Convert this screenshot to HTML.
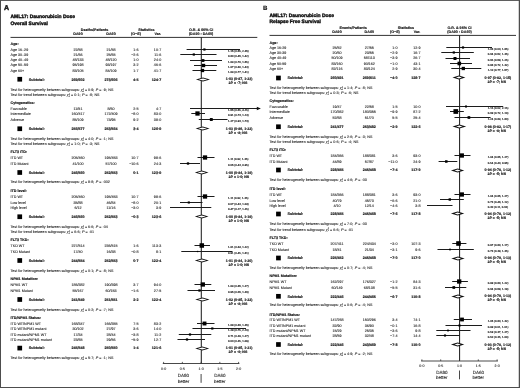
<!DOCTYPE html>
<html lang="en"><head><meta charset="utf-8"><title>AML17: Daunorubicin Dose</title>
<style>html,body{margin:0;padding:0;background:#fff;}body{width:520px;height:388px;overflow:hidden;position:relative;}svg{position:absolute;left:0;top:0;display:block;}text{font-family:"Liberation Sans",sans-serif;}</style></head><body>
<svg width="520" height="388" viewBox="0 0 520 388" font-size="3.66" fill="#222" text-rendering="geometricPrecision">
<rect x="0" y="0" width="520" height="388" fill="#fff"/>
<defs><filter id="soft" x="0" y="0" width="520" height="388" filterUnits="userSpaceOnUse"><feGaussianBlur stdDeviation="0.35"/></filter></defs>
<g filter="url(#soft)" stroke="#222" stroke-width="0.09" stroke-linejoin="round">
<text x="4.10" y="10.10" font-weight="bold" font-size="7.0" fill="#111" stroke-width="0.4" stroke="#111">A</text>
<text x="10.50" y="17.50" font-weight="bold" font-size="4.95" fill="#111" stroke-width="0.38" stroke="#111">AML17: Daunorubicin Dose</text>
<text x="10.50" y="24.70" font-weight="bold" font-size="4.95" fill="#111" stroke-width="0.38" stroke="#111">Overall Survival</text>
<text x="94.50" y="31.10" text-anchor="middle" font-weight="bold" stroke-width="0.16">Deaths/Patients</text>
<text x="78.00" y="34.70" text-anchor="middle" font-weight="bold" stroke-width="0.16">DA90</text>
<text x="111.00" y="34.70" text-anchor="middle" font-weight="bold" stroke-width="0.16">DA60</text>
<text x="146.50" y="31.10" text-anchor="middle" font-weight="bold" stroke-width="0.16">Statistics</text>
<text x="136.00" y="34.70" text-anchor="middle" font-weight="bold" stroke-width="0.16">(O−E)</text>
<text x="157.70" y="34.70" text-anchor="middle" font-weight="bold" stroke-width="0.16">Var.</text>
<text x="201.10" y="31.10" text-anchor="middle" font-weight="bold" stroke-width="0.16">O.R. &amp; 95% CI</text>
<text x="201.10" y="34.70" text-anchor="middle" font-weight="bold" stroke-width="0.16">(DA90 : DA60)</text>
<line x1="10.50" y1="37.40" x2="257.30" y2="37.40" stroke="#333" stroke-width="1"/>
<line x1="201.30" y1="37.40" x2="201.30" y2="363.50" stroke="#1a1a1a" stroke-width="1.0"/>
<line x1="162.80" y1="363.50" x2="239.40" y2="363.50" stroke="#333" stroke-width="0.9"/>
<line x1="163.60" y1="361.90" x2="163.60" y2="363.50" stroke="#333" stroke-width="0.8"/>
<text x="163.60" y="369.90" text-anchor="middle" font-size="3.55">0·0</text>
<line x1="182.35" y1="361.90" x2="182.35" y2="363.50" stroke="#333" stroke-width="0.8"/>
<text x="182.35" y="369.90" text-anchor="middle" font-size="3.55">0·5</text>
<line x1="201.10" y1="361.90" x2="201.10" y2="363.50" stroke="#333" stroke-width="0.8"/>
<text x="201.10" y="369.90" text-anchor="middle" font-size="3.55">1·0</text>
<line x1="219.85" y1="361.90" x2="219.85" y2="363.50" stroke="#333" stroke-width="0.8"/>
<text x="219.85" y="369.90" text-anchor="middle" font-size="3.55">1·5</text>
<line x1="238.60" y1="361.90" x2="238.60" y2="363.50" stroke="#333" stroke-width="0.8"/>
<text x="238.60" y="369.90" text-anchor="middle" font-size="3.55">2·0</text>
<text x="183.47" y="377.40" text-anchor="middle" font-size="4.5">DA90</text>
<text x="183.47" y="382.60" text-anchor="middle" font-size="4.5">better</text>
<text x="219.85" y="377.40" text-anchor="middle" font-size="4.5">DA60</text>
<text x="219.85" y="382.60" text-anchor="middle" font-size="4.5">better</text>
<line x1="201.10" y1="374.00" x2="201.10" y2="382.80" stroke="#333" stroke-width="0.9"/>
<text x="10.50" y="45.30" font-weight="bold" fill="#111" stroke-width="0.16">Age:</text>
<text x="10.50" y="50.55">Age 16–29</text>
<text x="78.00" y="50.55" text-anchor="middle">22/58</text>
<text x="111.00" y="50.55" text-anchor="middle">21/58</text>
<text x="138.60" y="50.55" text-anchor="end">1·6</text>
<text x="161.20" y="50.55" text-anchor="end">10·7</text>
<text x="228.00" y="51.75" font-size="2.75" fill="#222" stroke-width="0.14">1·15 (0·56, 2·35)</text>
<line x1="186.60" y1="49.50" x2="240.00" y2="49.50" stroke="#1a1a1a" stroke-width="1"/>
<rect x="203.30" y="48.40" width="2.20" height="2.20" fill="#000" stroke="none"/>
<text x="10.50" y="55.80">Age 30–39</text>
<text x="78.00" y="55.80" text-anchor="middle">21/66</text>
<text x="111.00" y="55.80" text-anchor="middle">25/65</text>
<text x="138.60" y="55.80" text-anchor="end">−2·6</text>
<text x="161.20" y="55.80" text-anchor="end">11·6</text>
<text x="228.00" y="57.00" font-size="2.75" fill="#222" stroke-width="0.14">0·80 (0·45, 1·42)</text>
<line x1="180.30" y1="54.50" x2="216.50" y2="54.50" stroke="#1a1a1a" stroke-width="1"/>
<rect x="192.70" y="53.40" width="2.20" height="2.20" fill="#000" stroke="none"/>
<text x="10.50" y="61.30">Age 40–49</text>
<text x="78.00" y="61.30" text-anchor="middle">48/133</text>
<text x="111.00" y="61.30" text-anchor="middle">48/120</text>
<text x="138.60" y="61.30" text-anchor="end">1·0</text>
<text x="161.20" y="61.30" text-anchor="end">24·0</text>
<text x="228.00" y="62.50" font-size="2.75" fill="#222" stroke-width="0.14">1·04 (0·70, 1·56)</text>
<line x1="190.00" y1="60.50" x2="222.00" y2="60.50" stroke="#1a1a1a" stroke-width="1"/>
<rect x="201.60" y="59.10" width="2.80" height="2.80" fill="#000" stroke="none"/>
<text x="10.50" y="66.30">Age 50–59</text>
<text x="78.00" y="66.30" text-anchor="middle">95/198</text>
<text x="111.00" y="66.30" text-anchor="middle">93/197</text>
<text x="138.60" y="66.30" text-anchor="end">3·2</text>
<text x="161.20" y="66.30" text-anchor="end">46·6</text>
<text x="228.00" y="67.50" font-size="2.75" fill="#222" stroke-width="0.14">1·07 (0·80, 1·43)</text>
<line x1="194.00" y1="65.50" x2="217.00" y2="65.50" stroke="#1a1a1a" stroke-width="1"/>
<rect x="201.80" y="63.80" width="3.40" height="3.40" fill="#000" stroke="none"/>
<text x="10.50" y="71.80">Age 60+</text>
<text x="78.00" y="71.80" text-anchor="middle">83/105</text>
<text x="111.00" y="71.80" text-anchor="middle">84/109</text>
<text x="138.60" y="71.80" text-anchor="end">1·7</text>
<text x="161.20" y="71.80" text-anchor="end">41·7</text>
<text x="228.00" y="73.00" font-size="2.75" fill="#222" stroke-width="0.14">1·04 (0·77, 1·41)</text>
<line x1="192.50" y1="70.50" x2="216.30" y2="70.50" stroke="#1a1a1a" stroke-width="1"/>
<rect x="200.85" y="68.85" width="3.30" height="3.30" fill="#000" stroke="none"/>
<rect x="17.40" y="76.90" width="4.70" height="4.70" fill="#000" stroke="none"/>
<text x="28.80" y="80.55" font-weight="bold" stroke-width="0.16">Subtotal:</text>
<text x="78.00" y="80.55" text-anchor="middle" font-weight="bold" stroke-width="0.16">269/602</text>
<text x="111.00" y="80.55" text-anchor="middle" font-weight="bold" stroke-width="0.16">273/606</text>
<text x="138.60" y="80.55" text-anchor="end" font-weight="bold" stroke-width="0.16">4·5</text>
<text x="161.20" y="80.55" text-anchor="end" font-weight="bold" stroke-width="0.16">124·7</text>
<text x="225.80" y="80.35" font-weight="bold" font-size="3.55" stroke-width="0.16">1·03 (0·87, 1·23)</text>
<text x="228.60" y="84.35" font-weight="bold" font-size="3.55" stroke-width="0.16">2<tspan font-style="italic">P</tspan> = ·7; NS</text>
<path d="M195.92 79.50 L202.97 77.50 L210.03 79.50 L202.97 81.50 Z" fill="#111" stroke="none"/>
<path d="M198.66 79.50 L202.97 78.50 L207.29 79.50 L202.97 80.50 Z" fill="#fff" stroke="none"/>
<text x="10.50" y="90.80">Test for heterogeneity between subgroups: <tspan font-style="italic">&#967;</tspan><tspan dy="-1.1" font-size="2.3">2</tspan><tspan dy="2.0" dx="-1.3" font-size="2.3">4</tspan><tspan dy="-0.9"> = 0·9; </tspan><tspan font-style="italic" dx="0.5" stroke-width="0.14">P</tspan> = ·9;<tspan dx="0.5"> NS</tspan></text>
<text x="10.50" y="96.30">Test for trend between subgroups: <tspan font-style="italic">&#967;</tspan><tspan dy="-1.1" font-size="2.3">2</tspan><tspan dy="2.0" dx="-1.3" font-size="2.3">1</tspan><tspan dy="-0.9"> = 0·1; </tspan><tspan font-style="italic" dx="0.5" stroke-width="0.14">P</tspan> = ·8;<tspan dx="0.5"> NS</tspan></text>
<text x="10.50" y="104.30" font-weight="bold" fill="#111" stroke-width="0.16">Cytogenetics:</text>
<text x="10.50" y="109.50">Favorable</text>
<text x="78.00" y="109.50" text-anchor="middle">11/51</text>
<text x="111.00" y="109.50" text-anchor="middle">8/60</text>
<text x="138.60" y="109.50" text-anchor="end">2·5</text>
<text x="161.20" y="109.50" text-anchor="end">4·7</text>
<text x="228.00" y="110.70" font-size="2.75" fill="#222" stroke-width="0.14">1·55 (0·56, 4·16)</text>
<line x1="190.00" y1="108.50" x2="259.60" y2="108.50" stroke="#1a1a1a" stroke-width="1"/>
<path d="M260.80 108.50 l-4 -1.7 v3.4 z" fill="#111" stroke="none"/>
<text x="10.50" y="115.10">Intermediate</text>
<text x="78.00" y="115.10" text-anchor="middle">160/417</text>
<text x="111.00" y="115.10" text-anchor="middle">172/409</text>
<text x="138.60" y="115.10" text-anchor="end">−8·0</text>
<text x="161.20" y="115.10" text-anchor="end">83·0</text>
<text x="228.00" y="116.30" font-size="2.75" fill="#222" stroke-width="0.14">0·91 (0·73, 1·13)</text>
<line x1="191.30" y1="113.50" x2="205.00" y2="113.50" stroke="#1a1a1a" stroke-width="1"/>
<rect x="195.35" y="111.35" width="4.30" height="4.30" fill="#000" stroke="none"/>
<text x="10.50" y="120.80">Adverse</text>
<text x="78.00" y="120.80" text-anchor="middle">85/109</text>
<text x="111.00" y="120.80" text-anchor="middle">73/95</text>
<text x="138.60" y="120.80" text-anchor="end">9·2</text>
<text x="161.20" y="120.80" text-anchor="end">39·0</text>
<text x="228.00" y="122.00" font-size="2.75" fill="#222" stroke-width="0.14">1·27 (0·93, 1·73)</text>
<line x1="198.80" y1="119.50" x2="227.50" y2="119.50" stroke="#1a1a1a" stroke-width="1"/>
<rect x="209.85" y="118.05" width="2.90" height="2.90" fill="#000" stroke="none"/>
<rect x="17.40" y="126.40" width="4.70" height="4.70" fill="#000" stroke="none"/>
<text x="28.80" y="130.05" font-weight="bold" stroke-width="0.16">Subtotal:</text>
<text x="78.00" y="130.05" text-anchor="middle" font-weight="bold" stroke-width="0.16">256/577</text>
<text x="111.00" y="130.05" text-anchor="middle" font-weight="bold" stroke-width="0.16">253/564</text>
<text x="138.60" y="130.05" text-anchor="end" font-weight="bold" stroke-width="0.16">3·4</text>
<text x="161.20" y="130.05" text-anchor="end" font-weight="bold" stroke-width="0.16">126·9</text>
<text x="225.80" y="129.85" font-weight="bold" font-size="3.55" stroke-width="0.16">1·03 (0·86, 1·22)</text>
<text x="228.60" y="133.85" font-weight="bold" font-size="3.55" stroke-width="0.16">2<tspan font-style="italic">P</tspan> = ·8; NS</text>
<path d="M195.55 128.50 L202.60 126.50 L209.65 128.50 L202.60 130.50 Z" fill="#111" stroke="none"/>
<path d="M198.28 128.50 L202.60 127.50 L206.92 128.50 L202.60 129.50 Z" fill="#fff" stroke="none"/>
<text x="10.50" y="139.60">Test for heterogeneity between subgroups: <tspan font-style="italic">&#967;</tspan><tspan dy="-1.1" font-size="2.3">2</tspan><tspan dy="2.0" dx="-1.3" font-size="2.3">2</tspan><tspan dy="-0.9"> = 4·0; </tspan><tspan font-style="italic" dx="0.5" stroke-width="0.14">P</tspan> = ·1;<tspan dx="0.5"> NS</tspan></text>
<text x="10.50" y="145.10">Test for trend between subgroups: <tspan font-style="italic">&#967;</tspan><tspan dy="-1.1" font-size="2.3">2</tspan><tspan dy="2.0" dx="-1.3" font-size="2.3">1</tspan><tspan dy="-0.9"> = 1·0; </tspan><tspan font-style="italic" dx="0.5" stroke-width="0.14">P</tspan> = ·3;<tspan dx="0.5"> NS</tspan></text>
<text x="10.50" y="153.10" font-weight="bold" fill="#111" stroke-width="0.16">FLT3 ITD:</text>
<text x="10.50" y="158.80">ITD WT</text>
<text x="78.00" y="158.80" text-anchor="middle">205/460</text>
<text x="111.00" y="158.80" text-anchor="middle">195/453</text>
<text x="138.60" y="158.80" text-anchor="end">10·7</text>
<text x="161.20" y="158.80" text-anchor="end">99·6</text>
<text x="228.00" y="160.00" font-size="2.75" fill="#222" stroke-width="0.14">1·11 (0·92, 1·36)</text>
<line x1="197.50" y1="157.50" x2="214.50" y2="157.50" stroke="#1a1a1a" stroke-width="1"/>
<rect x="202.85" y="155.35" width="4.30" height="4.30" fill="#000" stroke="none"/>
<text x="10.50" y="165.05">ITD Mutant</text>
<text x="78.00" y="165.05" text-anchor="middle">41/100</text>
<text x="111.00" y="165.05" text-anchor="middle">57/100</text>
<text x="138.60" y="165.05" text-anchor="end">−10·6</text>
<text x="161.20" y="165.05" text-anchor="end">24·3</text>
<text x="228.00" y="166.25" font-size="2.75" fill="#222" stroke-width="0.14">0·65 (0·43, 0·96)</text>
<line x1="180.00" y1="163.50" x2="200.00" y2="163.50" stroke="#1a1a1a" stroke-width="1"/>
<rect x="186.85" y="162.35" width="2.30" height="2.30" fill="#000" stroke="none"/>
<rect x="17.40" y="170.15" width="4.70" height="4.70" fill="#000" stroke="none"/>
<text x="28.80" y="173.80" font-weight="bold" stroke-width="0.16">Subtotal:</text>
<text x="78.00" y="173.80" text-anchor="middle" font-weight="bold" stroke-width="0.16">246/560</text>
<text x="111.00" y="173.80" text-anchor="middle" font-weight="bold" stroke-width="0.16">252/553</text>
<text x="138.60" y="173.80" text-anchor="end" font-weight="bold" stroke-width="0.16">0·1</text>
<text x="161.20" y="173.80" text-anchor="end" font-weight="bold" stroke-width="0.16">123·9</text>
<text x="225.80" y="173.60" font-weight="bold" font-size="3.55" stroke-width="0.16">1·00 (0·84, 1·19)</text>
<text x="228.60" y="177.60" font-weight="bold" font-size="3.55" stroke-width="0.16">2<tspan font-style="italic">P</tspan> = 1·0; NS</text>
<path d="M194.80 172.50 L201.66 170.50 L208.53 172.50 L201.66 174.50 Z" fill="#111" stroke="none"/>
<path d="M197.46 172.50 L201.66 171.50 L205.86 172.50 L201.66 173.50 Z" fill="#fff" stroke="none"/>
<text x="10.50" y="183.10">Test for heterogeneity between subgroups: <tspan font-style="italic">&#967;</tspan><tspan dy="-1.1" font-size="2.3">2</tspan><tspan dy="2.0" dx="-1.3" font-size="2.3">1</tspan><tspan dy="-0.9"> = 9·8; </tspan><tspan font-style="italic" dx="0.5" stroke-width="0.14">P</tspan> = ·002</text>
<text x="10.50" y="192.05" font-weight="bold" fill="#111" stroke-width="0.16">ITD level:</text>
<text x="10.50" y="197.55">ITD WT</text>
<text x="78.00" y="197.55" text-anchor="middle">205/460</text>
<text x="111.00" y="197.55" text-anchor="middle">195/453</text>
<text x="138.60" y="197.55" text-anchor="end">10·7</text>
<text x="161.20" y="197.55" text-anchor="end">99·6</text>
<text x="228.00" y="198.75" font-size="2.75" fill="#222" stroke-width="0.14">1·11 (0·92, 1·36)</text>
<line x1="197.50" y1="196.50" x2="214.50" y2="196.50" stroke="#1a1a1a" stroke-width="1"/>
<rect x="202.85" y="194.35" width="4.30" height="4.30" fill="#000" stroke="none"/>
<text x="10.50" y="203.60">Low level</text>
<text x="78.00" y="203.60" text-anchor="middle">35/88</text>
<text x="111.00" y="203.60" text-anchor="middle">46/84</text>
<text x="138.60" y="203.60" text-anchor="end">−8·0</text>
<text x="161.20" y="203.60" text-anchor="end">20·1</text>
<text x="228.00" y="204.80" font-size="2.75" fill="#222" stroke-width="0.14">0·67 (0·43, 1·04)</text>
<line x1="180.00" y1="202.50" x2="202.50" y2="202.50" stroke="#1a1a1a" stroke-width="1"/>
<rect x="187.75" y="201.45" width="2.10" height="2.10" fill="#000" stroke="none"/>
<text x="10.50" y="208.80">High level</text>
<text x="78.00" y="208.80" text-anchor="middle">6/12</text>
<text x="111.00" y="208.80" text-anchor="middle">11/16</text>
<text x="138.60" y="208.80" text-anchor="end">−3·0</text>
<text x="161.20" y="208.80" text-anchor="end">3·9</text>
<text x="228.00" y="210.00" font-size="2.75" fill="#222" stroke-width="0.14">0·47 (0·17, 1·26)</text>
<line x1="170.00" y1="207.50" x2="211.30" y2="207.50" stroke="#1a1a1a" stroke-width="1"/>
<rect x="17.40" y="214.40" width="4.70" height="4.70" fill="#000" stroke="none"/>
<text x="28.80" y="218.05" font-weight="bold" stroke-width="0.16">Subtotal:</text>
<text x="78.00" y="218.05" text-anchor="middle" font-weight="bold" stroke-width="0.16">246/560</text>
<text x="111.00" y="218.05" text-anchor="middle" font-weight="bold" stroke-width="0.16">252/553</text>
<text x="138.60" y="218.05" text-anchor="end" font-weight="bold" stroke-width="0.16">−0·3</text>
<text x="161.20" y="218.05" text-anchor="end" font-weight="bold" stroke-width="0.16">123·6</text>
<text x="225.80" y="217.85" font-weight="bold" font-size="3.55" stroke-width="0.16">1·00 (0·84, 1·19)</text>
<text x="228.60" y="221.85" font-weight="bold" font-size="3.55" stroke-width="0.16">2<tspan font-style="italic">P</tspan> = 1·0; NS</text>
<path d="M194.80 216.50 L201.66 214.50 L208.53 216.50 L201.66 218.50 Z" fill="#111" stroke="none"/>
<path d="M197.46 216.50 L201.66 215.50 L205.86 216.50 L201.66 217.50 Z" fill="#fff" stroke="none"/>
<text x="10.50" y="228.05">Test for heterogeneity between subgroups: <tspan font-style="italic">&#967;</tspan><tspan dy="-1.1" font-size="2.3">2</tspan><tspan dy="2.0" dx="-1.3" font-size="2.3">2</tspan><tspan dy="-0.9"> = 6·6; </tspan><tspan font-style="italic" dx="0.5" stroke-width="0.14">P</tspan> = ·04</text>
<text x="10.50" y="233.20">Test for trend between subgroups: <tspan font-style="italic">&#967;</tspan><tspan dy="-1.1" font-size="2.3">2</tspan><tspan dy="2.0" dx="-1.3" font-size="2.3">1</tspan><tspan dy="-0.9"> = 6·6; </tspan><tspan font-style="italic" dx="0.5" stroke-width="0.14">P</tspan> = ·01</text>
<text x="10.50" y="241.30" font-weight="bold" fill="#111" stroke-width="0.16">FLT3 TKD:</text>
<text x="10.50" y="246.80">TKD WT</text>
<text x="78.00" y="246.80" text-anchor="middle">227/514</text>
<text x="111.00" y="246.80" text-anchor="middle">236/515</text>
<text x="138.60" y="246.80" text-anchor="end">1·6</text>
<text x="161.20" y="246.80" text-anchor="end">113·3</text>
<text x="228.00" y="248.00" font-size="2.75" fill="#222" stroke-width="0.14">1·01 (0·84, 1·22)</text>
<line x1="194.50" y1="245.50" x2="210.00" y2="245.50" stroke="#1a1a1a" stroke-width="1"/>
<rect x="199.55" y="243.25" width="4.50" height="4.50" fill="#000" stroke="none"/>
<text x="10.50" y="253.05">TKD Mutant</text>
<text x="78.00" y="253.05" text-anchor="middle">17/40</text>
<text x="111.00" y="253.05" text-anchor="middle">16/38</text>
<text x="138.60" y="253.05" text-anchor="end">−0·8</text>
<text x="161.20" y="253.05" text-anchor="end">8·1</text>
<text x="228.00" y="254.25" font-size="2.75" fill="#222" stroke-width="0.14">0·91 (0·46, 1·81)</text>
<line x1="181.30" y1="251.50" x2="232.50" y2="251.50" stroke="#1a1a1a" stroke-width="1"/>
<rect x="196.95" y="250.85" width="1.30" height="1.30" fill="#000" stroke="none"/>
<rect x="17.40" y="258.15" width="4.70" height="4.70" fill="#000" stroke="none"/>
<text x="28.80" y="261.80" font-weight="bold" stroke-width="0.16">Subtotal:</text>
<text x="78.00" y="261.80" text-anchor="middle" font-weight="bold" stroke-width="0.16">244/554</text>
<text x="111.00" y="261.80" text-anchor="middle" font-weight="bold" stroke-width="0.16">252/553</text>
<text x="138.60" y="261.80" text-anchor="end" font-weight="bold" stroke-width="0.16">0·7</text>
<text x="161.20" y="261.80" text-anchor="end" font-weight="bold" stroke-width="0.16">122·4</text>
<text x="225.80" y="261.60" font-weight="bold" font-size="3.55" stroke-width="0.16">1·01 (0·84, 1·20)</text>
<text x="228.60" y="265.60" font-weight="bold" font-size="3.55" stroke-width="0.16">2<tspan font-style="italic">P</tspan> = 1·0; NS</text>
<path d="M194.80 260.50 L201.85 258.50 L208.90 260.50 L201.85 262.50 Z" fill="#111" stroke="none"/>
<path d="M197.53 260.50 L201.85 259.50 L206.17 260.50 L201.85 261.50 Z" fill="#fff" stroke="none"/>
<text x="10.50" y="272.05">Test for heterogeneity between subgroups: <tspan font-style="italic">&#967;</tspan><tspan dy="-1.1" font-size="2.3">2</tspan><tspan dy="2.0" dx="-1.3" font-size="2.3">1</tspan><tspan dy="-0.9"> = 0·1; </tspan><tspan font-style="italic" dx="0.5" stroke-width="0.14">P</tspan> = ·8;<tspan dx="0.5"> NS</tspan></text>
<text x="10.50" y="280.05" font-weight="bold" fill="#111" stroke-width="0.16">NPM1 Mutation:</text>
<text x="10.50" y="285.80">NPM1 WT</text>
<text x="78.00" y="285.80" text-anchor="middle">186/382</text>
<text x="111.00" y="285.80" text-anchor="middle">190/398</text>
<text x="138.60" y="285.80" text-anchor="end">3·7</text>
<text x="161.20" y="285.80" text-anchor="end">94·0</text>
<text x="228.00" y="287.00" font-size="2.75" fill="#222" stroke-width="0.14">1·04 (0·85, 1·27)</text>
<line x1="194.50" y1="284.50" x2="211.30" y2="284.50" stroke="#1a1a1a" stroke-width="1"/>
<rect x="200.65" y="282.35" width="4.30" height="4.30" fill="#000" stroke="none"/>
<text x="10.50" y="291.80">NPM1 Mutant</text>
<text x="78.00" y="291.80" text-anchor="middle">55/167</text>
<text x="111.00" y="291.80" text-anchor="middle">60/153</text>
<text x="138.60" y="291.80" text-anchor="end">−1·6</text>
<text x="161.20" y="291.80" text-anchor="end">27·5</text>
<text x="228.00" y="293.00" font-size="2.75" fill="#222" stroke-width="0.14">0·95 (0·65, 1·38)</text>
<line x1="187.50" y1="290.50" x2="215.00" y2="290.50" stroke="#1a1a1a" stroke-width="1"/>
<rect x="198.35" y="289.35" width="2.30" height="2.30" fill="#000" stroke="none"/>
<rect x="17.40" y="297.15" width="4.70" height="4.70" fill="#000" stroke="none"/>
<text x="28.80" y="300.80" font-weight="bold" stroke-width="0.16">Subtotal:</text>
<text x="78.00" y="300.80" text-anchor="middle" font-weight="bold" stroke-width="0.16">241/549</text>
<text x="111.00" y="300.80" text-anchor="middle" font-weight="bold" stroke-width="0.16">251/551</text>
<text x="138.60" y="300.80" text-anchor="end" font-weight="bold" stroke-width="0.16">2·2</text>
<text x="161.20" y="300.80" text-anchor="end" font-weight="bold" stroke-width="0.16">122·4</text>
<text x="225.80" y="300.60" font-weight="bold" font-size="3.55" stroke-width="0.16">1·02 (0·85, 1·22)</text>
<text x="228.60" y="304.60" font-weight="bold" font-size="3.55" stroke-width="0.16">2<tspan font-style="italic">P</tspan> = ·8; NS</text>
<path d="M195.17 299.50 L202.41 297.50 L209.65 299.50 L202.41 301.50 Z" fill="#111" stroke="none"/>
<path d="M197.97 299.50 L202.41 298.50 L206.85 299.50 L202.41 300.50 Z" fill="#fff" stroke="none"/>
<text x="10.50" y="310.80">Test for heterogeneity between subgroups: <tspan font-style="italic">&#967;</tspan><tspan dy="-1.1" font-size="2.3">2</tspan><tspan dy="2.0" dx="-1.3" font-size="2.3">1</tspan><tspan dy="-0.9"> = 0·2; </tspan><tspan font-style="italic" dx="0.5" stroke-width="0.14">P</tspan> = ·7;<tspan dx="0.5"> NS</tspan></text>
<text x="10.50" y="318.80" font-weight="bold" fill="#111" stroke-width="0.16">ITD/NPM1 Status:</text>
<text x="10.50" y="324.55">ITD WT/NPM1 WT</text>
<text x="78.00" y="324.55" text-anchor="middle">168/347</text>
<text x="111.00" y="324.55" text-anchor="middle">166/355</text>
<text x="138.60" y="324.55" text-anchor="end">7·5</text>
<text x="161.20" y="324.55" text-anchor="end">83·2</text>
<text x="228.00" y="325.75" font-size="2.75" fill="#222" stroke-width="0.14">1·09 (0·88, 1·35)</text>
<line x1="197.00" y1="323.50" x2="214.50" y2="323.50" stroke="#1a1a1a" stroke-width="1"/>
<rect x="202.55" y="321.55" width="3.90" height="3.90" fill="#000" stroke="none"/>
<text x="10.50" y="330.05">ITD WT/NPM1 mutant</text>
<text x="78.00" y="330.05" text-anchor="middle">30/102</text>
<text x="111.00" y="330.05" text-anchor="middle">27/97</text>
<text x="138.60" y="330.05" text-anchor="end">3·6</text>
<text x="161.20" y="330.05" text-anchor="end">14·0</text>
<text x="228.00" y="331.25" font-size="2.75" fill="#222" stroke-width="0.14">1·29 (0·76, 2·18)</text>
<line x1="192.50" y1="328.50" x2="246.00" y2="328.50" stroke="#1a1a1a" stroke-width="1"/>
<rect x="211.20" y="327.40" width="2.20" height="2.20" fill="#000" stroke="none"/>
<text x="10.50" y="335.55">ITD mutant/NPM1 WT</text>
<text x="78.00" y="335.55" text-anchor="middle">17/34</text>
<text x="111.00" y="335.55" text-anchor="middle">28/44</text>
<text x="138.60" y="335.55" text-anchor="end">−3·8</text>
<text x="161.20" y="335.55" text-anchor="end">11·2</text>
<text x="228.00" y="336.75" font-size="2.75" fill="#222" stroke-width="0.14">0·71 (0·39, 1·27)</text>
<line x1="178.80" y1="334.50" x2="211.30" y2="334.50" stroke="#1a1a1a" stroke-width="1"/>
<rect x="188.90" y="333.40" width="2.20" height="2.20" fill="#000" stroke="none"/>
<text x="10.50" y="340.80">ITD mutant/NPM1 mutant</text>
<text x="78.00" y="340.80" text-anchor="middle">23/65</text>
<text x="111.00" y="340.80" text-anchor="middle">29/56</text>
<text x="138.60" y="340.80" text-anchor="end">−5·9</text>
<text x="161.20" y="340.80" text-anchor="end">12·7</text>
<text x="228.00" y="342.00" font-size="2.75" fill="#222" stroke-width="0.14">0·63 (0·36, 1·09)</text>
<line x1="177.50" y1="339.50" x2="205.00" y2="339.50" stroke="#1a1a1a" stroke-width="1"/>
<rect x="185.90" y="338.40" width="2.20" height="2.20" fill="#000" stroke="none"/>
<rect x="17.40" y="345.75" width="4.70" height="4.70" fill="#000" stroke="none"/>
<text x="28.80" y="349.40" font-weight="bold" stroke-width="0.16">Subtotal:</text>
<text x="78.00" y="349.40" text-anchor="middle" font-weight="bold" stroke-width="0.16">245/548</text>
<text x="111.00" y="349.40" text-anchor="middle" font-weight="bold" stroke-width="0.16">250/550</text>
<text x="138.60" y="349.40" text-anchor="end" font-weight="bold" stroke-width="0.16">1·4</text>
<text x="161.20" y="349.40" text-anchor="end" font-weight="bold" stroke-width="0.16">121·6</text>
<text x="225.80" y="349.20" font-weight="bold" font-size="3.55" stroke-width="0.16">1·01 (0·85, 1·21)</text>
<text x="228.60" y="353.20" font-weight="bold" font-size="3.55" stroke-width="0.16">2<tspan font-style="italic">P</tspan> = ·9; NS</text>
<path d="M195.17 348.50 L202.22 346.50 L209.28 348.50 L202.22 350.50 Z" fill="#111" stroke="none"/>
<path d="M197.91 348.50 L202.22 347.50 L206.54 348.50 L202.22 349.50 Z" fill="#fff" stroke="none"/>
<text x="10.50" y="359.40">Test for heterogeneity between subgroups: <tspan font-style="italic">&#967;</tspan><tspan dy="-1.1" font-size="2.3">2</tspan><tspan dy="2.0" dx="-1.3" font-size="2.3">3</tspan><tspan dy="-0.9"> = 5·7; </tspan><tspan font-style="italic" dx="0.5" stroke-width="0.14">P</tspan> = ·1;<tspan dx="0.5"> NS</tspan></text>
<text x="263.10" y="9.60" font-weight="bold" font-size="6.1" fill="#111" stroke-width="0.12" stroke="#111">B</text>
<text x="269.50" y="17.30" font-weight="bold" font-size="4.95" fill="#111" stroke-width="0.38" stroke="#111">AML17: Daunorubicin Dose</text>
<text x="269.50" y="23.20" font-weight="bold" font-size="4.95" fill="#111" stroke-width="0.38" stroke="#111">Relapse Free Survival</text>
<text x="353.15" y="28.50" text-anchor="middle" font-weight="bold" stroke-width="0.16">Events/Patients</text>
<text x="337.00" y="33.00" text-anchor="middle" font-weight="bold" stroke-width="0.16">DA90</text>
<text x="369.30" y="33.00" text-anchor="middle" font-weight="bold" stroke-width="0.16">DA60</text>
<text x="405.90" y="28.50" text-anchor="middle" font-weight="bold" stroke-width="0.16">Statistics</text>
<text x="394.90" y="33.00" text-anchor="middle" font-weight="bold" stroke-width="0.16">(O−E)</text>
<text x="417.00" y="33.00" text-anchor="middle" font-weight="bold" stroke-width="0.16">Var.</text>
<text x="459.50" y="28.50" text-anchor="middle" font-weight="bold" stroke-width="0.16">O.R. &amp; 95% CI</text>
<text x="459.50" y="33.00" text-anchor="middle" font-weight="bold" stroke-width="0.16">(DA90 : DA60)</text>
<line x1="269.50" y1="35.40" x2="516.00" y2="35.40" stroke="#333" stroke-width="1"/>
<line x1="459.60" y1="35.40" x2="459.60" y2="361.00" stroke="#1a1a1a" stroke-width="1.0"/>
<line x1="421.10" y1="361.00" x2="497.90" y2="361.00" stroke="#333" stroke-width="0.9"/>
<line x1="421.90" y1="359.40" x2="421.90" y2="361.00" stroke="#333" stroke-width="0.8"/>
<text x="421.90" y="367.40" text-anchor="middle" font-size="3.55">0·0</text>
<line x1="440.70" y1="359.40" x2="440.70" y2="361.00" stroke="#333" stroke-width="0.8"/>
<text x="440.70" y="367.40" text-anchor="middle" font-size="3.55">0·5</text>
<line x1="459.50" y1="359.40" x2="459.50" y2="361.00" stroke="#333" stroke-width="0.8"/>
<text x="459.50" y="367.40" text-anchor="middle" font-size="3.55">1·0</text>
<line x1="478.30" y1="359.40" x2="478.30" y2="361.00" stroke="#333" stroke-width="0.8"/>
<text x="478.30" y="367.40" text-anchor="middle" font-size="3.55">1·5</text>
<line x1="497.10" y1="359.40" x2="497.10" y2="361.00" stroke="#333" stroke-width="0.8"/>
<text x="497.10" y="367.40" text-anchor="middle" font-size="3.55">2·0</text>
<text x="441.83" y="373.90" text-anchor="middle" font-size="4.5">DA90</text>
<text x="441.83" y="379.10" text-anchor="middle" font-size="4.5">better</text>
<text x="478.30" y="373.90" text-anchor="middle" font-size="4.5">DA60</text>
<text x="478.30" y="379.10" text-anchor="middle" font-size="4.5">better</text>
<line x1="459.50" y1="370.50" x2="459.50" y2="379.30" stroke="#333" stroke-width="0.9"/>
<text x="269.50" y="43.90" font-weight="bold" fill="#111" stroke-width="0.16">Age:</text>
<text x="269.50" y="49.10">Age 16-29</text>
<text x="337.00" y="49.10" text-anchor="middle">25/52</text>
<text x="369.30" y="49.10" text-anchor="middle">27/55</text>
<text x="397.50" y="49.10" text-anchor="end">1·0</text>
<text x="420.50" y="49.10" text-anchor="end">12·9</text>
<text x="487.80" y="50.30" font-size="2.75" fill="#222" stroke-width="0.14">1·08 (0·63, 1·86)</text>
<line x1="446.30" y1="47.50" x2="492.00" y2="47.50" stroke="#1a1a1a" stroke-width="1"/>
<rect x="461.90" y="46.40" width="2.20" height="2.20" fill="#000" stroke="none"/>
<text x="269.50" y="54.20">Age 30-39</text>
<text x="337.00" y="54.20" text-anchor="middle">20/60</text>
<text x="369.30" y="54.20" text-anchor="middle">23/55</text>
<text x="397.50" y="54.20" text-anchor="end">−2·9</text>
<text x="420.50" y="54.20" text-anchor="end">16·7</text>
<text x="487.80" y="55.40" font-size="2.75" fill="#222" stroke-width="0.14">0·84 (0·52, 1·36)</text>
<line x1="441.30" y1="52.50" x2="473.80" y2="52.50" stroke="#1a1a1a" stroke-width="1"/>
<rect x="452.70" y="51.40" width="2.20" height="2.20" fill="#000" stroke="none"/>
<text x="269.50" y="59.30">Age 40-49</text>
<text x="337.00" y="59.30" text-anchor="middle">50/109</text>
<text x="369.30" y="59.30" text-anchor="middle">58/113</text>
<text x="397.50" y="59.30" text-anchor="end">−3·9</text>
<text x="420.50" y="59.30" text-anchor="end">26·7</text>
<text x="487.80" y="60.50" font-size="2.75" fill="#222" stroke-width="0.14">0·86 (0·59, 1·26)</text>
<line x1="445.50" y1="58.50" x2="470.00" y2="58.50" stroke="#1a1a1a" stroke-width="1"/>
<rect x="453.50" y="57.00" width="3.00" height="3.00" fill="#000" stroke="none"/>
<text x="269.50" y="64.80">Age 50-59</text>
<text x="337.00" y="64.80" text-anchor="middle">83/160</text>
<text x="369.30" y="64.80" text-anchor="middle">90/162</text>
<text x="397.50" y="64.80" text-anchor="end">−1·0</text>
<text x="420.50" y="64.80" text-anchor="end">43·1</text>
<text x="487.80" y="66.00" font-size="2.75" fill="#222" stroke-width="0.14">0·98 (0·72, 1·32)</text>
<line x1="450.00" y1="63.50" x2="472.00" y2="63.50" stroke="#1a1a1a" stroke-width="1"/>
<rect x="457.50" y="61.70" width="3.60" height="3.60" fill="#000" stroke="none"/>
<text x="269.50" y="70.05">Age 60+</text>
<text x="337.00" y="70.05" text-anchor="middle">82/116</text>
<text x="369.30" y="70.05" text-anchor="middle">83/124</text>
<text x="397.50" y="70.05" text-anchor="end">2·9</text>
<text x="420.50" y="70.05" text-anchor="end">30·4</text>
<text x="487.80" y="71.25" font-size="2.75" fill="#222" stroke-width="0.14">1·10 (0·77, 1·57)</text>
<line x1="451.30" y1="68.50" x2="481.30" y2="68.50" stroke="#1a1a1a" stroke-width="1"/>
<rect x="461.65" y="66.85" width="3.30" height="3.30" fill="#000" stroke="none"/>
<rect x="276.10" y="75.65" width="4.70" height="4.70" fill="#000" stroke="none"/>
<text x="287.50" y="79.30" font-weight="bold" stroke-width="0.16">Subtotal:</text>
<text x="337.00" y="79.30" text-anchor="middle" font-weight="bold" stroke-width="0.16">260/491</text>
<text x="369.30" y="79.30" text-anchor="middle" font-weight="bold" stroke-width="0.16">269/511</text>
<text x="397.50" y="79.30" text-anchor="end" font-weight="bold" stroke-width="0.16">−4·0</text>
<text x="420.50" y="79.30" text-anchor="end" font-weight="bold" stroke-width="0.16">128·7</text>
<text x="484.60" y="79.10" font-weight="bold" font-size="3.55" stroke-width="0.16">0·97 (0·82, 1·15)</text>
<text x="487.40" y="83.10" font-weight="bold" font-size="3.55" stroke-width="0.16">2<tspan font-style="italic">P</tspan> = ·7; NS</text>
<path d="M452.43 77.50 L458.94 75.40 L465.44 77.50 L458.94 79.60 Z" fill="#111" stroke="none"/>
<path d="M455.96 77.50 L458.94 76.50 L461.91 77.50 L458.94 78.50 Z" fill="#fff" stroke="none"/>
<text x="269.50" y="88.80">Test for heterogeneity between subgroups: <tspan font-style="italic">&#967;</tspan><tspan dy="-1.1" font-size="2.3">2</tspan><tspan dy="2.0" dx="-1.3" font-size="2.3">4</tspan><tspan dy="-0.9"> = 1·4; </tspan><tspan font-style="italic" dx="0.5" stroke-width="0.14">P</tspan> = ·8;<tspan dx="0.5"> NS</tspan></text>
<text x="269.50" y="94.30">Test for trend between subgroups: <tspan font-style="italic">&#967;</tspan><tspan dy="-1.1" font-size="2.3">2</tspan><tspan dy="2.0" dx="-1.3" font-size="2.3">1</tspan><tspan dy="-0.9"> = 0·3; </tspan><tspan font-style="italic" dx="0.5" stroke-width="0.14">P</tspan> = ·6;<tspan dx="0.5"> NS</tspan></text>
<text x="269.50" y="101.80" font-weight="bold" fill="#111" stroke-width="0.16">Cytogenetics:</text>
<text x="269.50" y="107.55">Favourable</text>
<text x="337.00" y="107.55" text-anchor="middle">19/47</text>
<text x="369.30" y="107.55" text-anchor="middle">22/58</text>
<text x="397.50" y="107.55" text-anchor="end">1·5</text>
<text x="420.50" y="107.55" text-anchor="end">10·0</text>
<text x="487.80" y="108.75" font-size="2.75" fill="#222" stroke-width="0.14">1·16 (0·62, 2·16)</text>
<line x1="446.00" y1="106.50" x2="503.20" y2="106.50" stroke="#1a1a1a" stroke-width="1"/>
<rect x="465.00" y="105.50" width="2.00" height="2.00" fill="#000" stroke="none"/>
<text x="269.50" y="113.20">Intermediate</text>
<text x="337.00" y="113.20" text-anchor="middle">170/362</text>
<text x="369.30" y="113.20" text-anchor="middle">180/355</text>
<text x="397.50" y="113.20" text-anchor="end">−9·9</text>
<text x="420.50" y="113.20" text-anchor="end">87·2</text>
<text x="487.80" y="114.40" font-size="2.75" fill="#222" stroke-width="0.14">0·89 (0·72, 1·10)</text>
<line x1="450.00" y1="111.50" x2="463.80" y2="111.50" stroke="#1a1a1a" stroke-width="1"/>
<rect x="453.45" y="109.15" width="4.70" height="4.70" fill="#000" stroke="none"/>
<text x="269.50" y="119.10">Adverse</text>
<text x="337.00" y="119.10" text-anchor="middle">52/68</text>
<text x="369.30" y="119.10" text-anchor="middle">51/70</text>
<text x="397.50" y="119.10" text-anchor="end">5·5</text>
<text x="420.50" y="119.10" text-anchor="end">25·4</text>
<text x="487.80" y="120.30" font-size="2.75" fill="#222" stroke-width="0.14">1·24 (0·84, 1·83)</text>
<line x1="454.50" y1="117.50" x2="490.60" y2="117.50" stroke="#1a1a1a" stroke-width="1"/>
<rect x="467.55" y="116.15" width="2.70" height="2.70" fill="#000" stroke="none"/>
<rect x="276.10" y="124.40" width="4.70" height="4.70" fill="#000" stroke="none"/>
<text x="287.50" y="128.05" font-weight="bold" stroke-width="0.16">Subtotal:</text>
<text x="337.00" y="128.05" text-anchor="middle" font-weight="bold" stroke-width="0.16">241/477</text>
<text x="369.30" y="128.05" text-anchor="middle" font-weight="bold" stroke-width="0.16">253/482</text>
<text x="397.50" y="128.05" text-anchor="end" font-weight="bold" stroke-width="0.16">−2·9</text>
<text x="420.50" y="128.05" text-anchor="end" font-weight="bold" stroke-width="0.16">122·6</text>
<text x="484.60" y="127.85" font-weight="bold" font-size="3.55" stroke-width="0.16">0·98 (0·82, 1·17)</text>
<text x="487.40" y="131.85" font-weight="bold" font-size="3.55" stroke-width="0.16">2<tspan font-style="italic">P</tspan> = ·8; NS</text>
<path d="M452.43 126.50 L459.31 124.40 L466.19 126.50 L459.31 128.60 Z" fill="#111" stroke="none"/>
<path d="M456.15 126.50 L459.31 125.50 L462.47 126.50 L459.31 127.50 Z" fill="#fff" stroke="none"/>
<text x="269.50" y="138.05">Test for heterogeneity between subgroups: <tspan font-style="italic">&#967;</tspan><tspan dy="-1.1" font-size="2.3">2</tspan><tspan dy="2.0" dx="-1.3" font-size="2.3">2</tspan><tspan dy="-0.9"> = 2·6; </tspan><tspan font-style="italic" dx="0.5" stroke-width="0.14">P</tspan> = ·3;<tspan dx="0.5"> NS</tspan></text>
<text x="269.50" y="143.30">Test for trend between subgroups: <tspan font-style="italic">&#967;</tspan><tspan dy="-1.1" font-size="2.3">2</tspan><tspan dy="2.0" dx="-1.3" font-size="2.3">1</tspan><tspan dy="-0.9"> = 0·6; </tspan><tspan font-style="italic" dx="0.5" stroke-width="0.14">P</tspan> = ·4;<tspan dx="0.5"> NS</tspan></text>
<text x="269.50" y="151.30" font-weight="bold" fill="#111" stroke-width="0.16">FLT3 ITD:</text>
<text x="269.50" y="157.05">ITD WT</text>
<text x="337.00" y="157.05" text-anchor="middle">184/366</text>
<text x="369.30" y="157.05" text-anchor="middle">188/381</text>
<text x="397.50" y="157.05" text-anchor="end">3·6</text>
<text x="420.50" y="157.05" text-anchor="end">93·0</text>
<text x="487.80" y="158.25" font-size="2.75" fill="#222" stroke-width="0.14">1·04 (0·85, 1·27)</text>
<line x1="454.50" y1="155.50" x2="470.50" y2="155.50" stroke="#1a1a1a" stroke-width="1"/>
<rect x="459.65" y="153.35" width="4.30" height="4.30" fill="#000" stroke="none"/>
<text x="269.50" y="162.55">ITD Mutant</text>
<text x="337.00" y="162.55" text-anchor="middle">44/89</text>
<text x="369.30" y="162.55" text-anchor="middle">57/87</text>
<text x="397.50" y="162.55" text-anchor="end">−11·0</text>
<text x="420.50" y="162.55" text-anchor="end">24·9</text>
<text x="487.80" y="163.75" font-size="2.75" fill="#222" stroke-width="0.14">0·64 (0·43, 0·95)</text>
<line x1="438.60" y1="161.50" x2="457.30" y2="161.50" stroke="#1a1a1a" stroke-width="1"/>
<rect x="445.05" y="160.25" width="2.50" height="2.50" fill="#000" stroke="none"/>
<rect x="276.10" y="167.65" width="4.70" height="4.70" fill="#000" stroke="none"/>
<text x="287.50" y="171.30" font-weight="bold" stroke-width="0.16">Subtotal:</text>
<text x="337.00" y="171.30" text-anchor="middle" font-weight="bold" stroke-width="0.16">228/455</text>
<text x="369.30" y="171.30" text-anchor="middle" font-weight="bold" stroke-width="0.16">245/468</text>
<text x="397.50" y="171.30" text-anchor="end" font-weight="bold" stroke-width="0.16">−7·4</text>
<text x="420.50" y="171.30" text-anchor="end" font-weight="bold" stroke-width="0.16">117·9</text>
<text x="484.60" y="171.10" font-weight="bold" font-size="3.55" stroke-width="0.16">0·94 (0·78, 1·12)</text>
<text x="487.40" y="175.10" font-weight="bold" font-size="3.55" stroke-width="0.16">2<tspan font-style="italic">P</tspan> = ·5; NS</text>
<path d="M450.93 170.50 L457.62 168.40 L464.31 170.50 L457.62 172.60 Z" fill="#111" stroke="none"/>
<path d="M454.55 170.50 L457.62 169.50 L460.69 170.50 L457.62 171.50 Z" fill="#fff" stroke="none"/>
<text x="269.50" y="181.30">Test for heterogeneity between subgroups: <tspan font-style="italic">&#967;</tspan><tspan dy="-1.1" font-size="2.3">2</tspan><tspan dy="2.0" dx="-1.3" font-size="2.3">1</tspan><tspan dy="-0.9"> = 4·6; </tspan><tspan font-style="italic" dx="0.5" stroke-width="0.14">P</tspan> = ·03</text>
<text x="269.50" y="190.05" font-weight="bold" fill="#111" stroke-width="0.16">ITD level:</text>
<text x="269.50" y="195.55">ITD WT</text>
<text x="337.00" y="195.55" text-anchor="middle">184/366</text>
<text x="369.30" y="195.55" text-anchor="middle">188/381</text>
<text x="397.50" y="195.55" text-anchor="end">3·6</text>
<text x="420.50" y="195.55" text-anchor="end">93·0</text>
<text x="487.80" y="196.75" font-size="2.75" fill="#222" stroke-width="0.14">1·04 (0·85, 1·27)</text>
<line x1="454.50" y1="194.50" x2="470.50" y2="194.50" stroke="#1a1a1a" stroke-width="1"/>
<rect x="459.65" y="192.35" width="4.30" height="4.30" fill="#000" stroke="none"/>
<text x="269.50" y="201.60">Low level</text>
<text x="337.00" y="201.60" text-anchor="middle">40/79</text>
<text x="369.30" y="201.60" text-anchor="middle">45/73</text>
<text x="397.50" y="201.60" text-anchor="end">−6·6</text>
<text x="420.50" y="201.60" text-anchor="end">21·0</text>
<text x="487.80" y="202.80" font-size="2.75" fill="#222" stroke-width="0.14">0·73 (0·48, 1·12)</text>
<line x1="440.00" y1="199.50" x2="463.80" y2="199.50" stroke="#1a1a1a" stroke-width="1"/>
<rect x="448.60" y="198.30" width="2.40" height="2.40" fill="#000" stroke="none"/>
<text x="269.50" y="206.70">High level</text>
<text x="337.00" y="206.70" text-anchor="middle">4/10</text>
<text x="369.30" y="206.70" text-anchor="middle">12/14</text>
<text x="397.50" y="206.70" text-anchor="end">−4·6</text>
<text x="420.50" y="206.70" text-anchor="end">3·8</text>
<text x="487.80" y="207.90" font-size="2.75" fill="#222" stroke-width="0.14">0·30 (0·11, 0·82)</text>
<line x1="427.00" y1="205.50" x2="452.50" y2="205.50" stroke="#1a1a1a" stroke-width="1"/>
<rect x="276.10" y="211.65" width="4.70" height="4.70" fill="#000" stroke="none"/>
<text x="287.50" y="215.30" font-weight="bold" stroke-width="0.16">Subtotal:</text>
<text x="337.00" y="215.30" text-anchor="middle" font-weight="bold" stroke-width="0.16">228/455</text>
<text x="369.30" y="215.30" text-anchor="middle" font-weight="bold" stroke-width="0.16">245/468</text>
<text x="397.50" y="215.30" text-anchor="end" font-weight="bold" stroke-width="0.16">−7·6</text>
<text x="420.50" y="215.30" text-anchor="end" font-weight="bold" stroke-width="0.16">117·8</text>
<text x="484.60" y="215.10" font-weight="bold" font-size="3.55" stroke-width="0.16">0·94 (0·78, 1·12)</text>
<text x="487.40" y="219.10" font-weight="bold" font-size="3.55" stroke-width="0.16">2<tspan font-style="italic">P</tspan> = ·5; NS</text>
<path d="M450.93 213.50 L457.62 211.40 L464.31 213.50 L457.62 215.60 Z" fill="#111" stroke="none"/>
<path d="M454.55 213.50 L457.62 212.50 L460.69 213.50 L457.62 214.50 Z" fill="#fff" stroke="none"/>
<text x="269.50" y="225.05">Test for heterogeneity between subgroups: <tspan font-style="italic">&#967;</tspan><tspan dy="-1.1" font-size="2.3">2</tspan><tspan dy="2.0" dx="-1.3" font-size="2.3">2</tspan><tspan dy="-0.9"> = 7·0; </tspan><tspan font-style="italic" dx="0.5" stroke-width="0.14">P</tspan> = ·03</text>
<text x="269.50" y="230.55">Test for trend between subgroups: <tspan font-style="italic">&#967;</tspan><tspan dy="-1.1" font-size="2.3">2</tspan><tspan dy="2.0" dx="-1.3" font-size="2.3">1</tspan><tspan dy="-0.9"> = 6·6; </tspan><tspan font-style="italic" dx="0.5" stroke-width="0.14">P</tspan> = ·01</text>
<text x="269.50" y="238.80" font-weight="bold" fill="#111" stroke-width="0.16">FLT3 TKD:</text>
<text x="269.50" y="244.80">TKD WT</text>
<text x="337.00" y="244.80" text-anchor="middle">207/411</text>
<text x="369.30" y="244.80" text-anchor="middle">224/434</text>
<text x="397.50" y="244.80" text-anchor="end">−3·0</text>
<text x="420.50" y="244.80" text-anchor="end">107·3</text>
<text x="487.80" y="246.00" font-size="2.75" fill="#222" stroke-width="0.14">0·97 (0·80, 1·17)</text>
<line x1="452.30" y1="243.50" x2="466.40" y2="243.50" stroke="#1a1a1a" stroke-width="1"/>
<rect x="456.20" y="241.20" width="4.60" height="4.60" fill="#000" stroke="none"/>
<text x="269.50" y="250.55">TKD Mutant</text>
<text x="337.00" y="250.55" text-anchor="middle">18/41</text>
<text x="369.30" y="250.55" text-anchor="middle">21/34</text>
<text x="397.50" y="250.55" text-anchor="end">−3·1</text>
<text x="420.50" y="250.55" text-anchor="end">9·6</text>
<text x="487.80" y="251.75" font-size="2.75" fill="#222" stroke-width="0.14">0·73 (0·39, 1·36)</text>
<line x1="437.50" y1="249.50" x2="473.80" y2="249.50" stroke="#1a1a1a" stroke-width="1"/>
<rect x="449.15" y="248.65" width="1.70" height="1.70" fill="#000" stroke="none"/>
<rect x="276.10" y="255.65" width="4.70" height="4.70" fill="#000" stroke="none"/>
<text x="287.50" y="259.30" font-weight="bold" stroke-width="0.16">Subtotal:</text>
<text x="337.00" y="259.30" text-anchor="middle" font-weight="bold" stroke-width="0.16">225/452</text>
<text x="369.30" y="259.30" text-anchor="middle" font-weight="bold" stroke-width="0.16">245/468</text>
<text x="397.50" y="259.30" text-anchor="end" font-weight="bold" stroke-width="0.16">−7·0</text>
<text x="420.50" y="259.30" text-anchor="end" font-weight="bold" stroke-width="0.16">117·0</text>
<text x="484.60" y="259.10" font-weight="bold" font-size="3.55" stroke-width="0.16">0·94 (0·79, 1·13)</text>
<text x="487.40" y="263.10" font-weight="bold" font-size="3.55" stroke-width="0.16">2<tspan font-style="italic">P</tspan> = ·5; NS</text>
<path d="M451.30 258.50 L458.00 256.40 L464.69 258.50 L458.00 260.60 Z" fill="#111" stroke="none"/>
<path d="M454.93 258.50 L458.00 257.50 L461.06 258.50 L458.00 259.50 Z" fill="#fff" stroke="none"/>
<text x="269.50" y="269.10">Test for heterogeneity between subgroups: <tspan font-style="italic">&#967;</tspan><tspan dy="-1.1" font-size="2.3">2</tspan><tspan dy="2.0" dx="-1.3" font-size="2.3">1</tspan><tspan dy="-0.9"> = 0·7; </tspan><tspan font-style="italic" dx="0.5" stroke-width="0.14">P</tspan> = ·4;<tspan dx="0.5"> NS</tspan></text>
<text x="269.50" y="277.10" font-weight="bold" fill="#111" stroke-width="0.16">NPM1 Mutation:</text>
<text x="269.50" y="282.55">NPM1 WT</text>
<text x="337.00" y="282.55" text-anchor="middle">162/297</text>
<text x="369.30" y="282.55" text-anchor="middle">176/327</text>
<text x="397.50" y="282.55" text-anchor="end">−1·2</text>
<text x="420.50" y="282.55" text-anchor="end">84·3</text>
<text x="487.80" y="283.75" font-size="2.75" fill="#222" stroke-width="0.14">0·99 (0·80, 1·22)</text>
<line x1="452.20" y1="281.50" x2="467.90" y2="281.50" stroke="#1a1a1a" stroke-width="1"/>
<rect x="457.05" y="279.35" width="4.30" height="4.30" fill="#000" stroke="none"/>
<text x="269.50" y="288.80">NPM1 Mutant</text>
<text x="337.00" y="288.80" text-anchor="middle">60/149</text>
<text x="369.30" y="288.80" text-anchor="middle">68/138</text>
<text x="397.50" y="288.80" text-anchor="end">−5·5</text>
<text x="420.50" y="288.80" text-anchor="end">31·6</text>
<text x="487.80" y="290.00" font-size="2.75" fill="#222" stroke-width="0.14">0·84 (0·59, 1·19)</text>
<line x1="445.00" y1="287.50" x2="466.30" y2="287.50" stroke="#1a1a1a" stroke-width="1"/>
<rect x="452.45" y="286.15" width="2.70" height="2.70" fill="#000" stroke="none"/>
<rect x="276.10" y="293.95" width="4.70" height="4.70" fill="#000" stroke="none"/>
<text x="287.50" y="297.60" font-weight="bold" stroke-width="0.16">Subtotal:</text>
<text x="337.00" y="297.60" text-anchor="middle" font-weight="bold" stroke-width="0.16">222/446</text>
<text x="369.30" y="297.60" text-anchor="middle" font-weight="bold" stroke-width="0.16">244/465</text>
<text x="397.50" y="297.60" text-anchor="end" font-weight="bold" stroke-width="0.16">−6·7</text>
<text x="420.50" y="297.60" text-anchor="end" font-weight="bold" stroke-width="0.16">115·8</text>
<text x="484.60" y="297.40" font-weight="bold" font-size="3.55" stroke-width="0.16">0·94 (0·79, 1·13)</text>
<text x="487.40" y="301.40" font-weight="bold" font-size="3.55" stroke-width="0.16">2<tspan font-style="italic">P</tspan> = ·5; NS</text>
<path d="M451.30 296.50 L458.00 294.40 L464.69 296.50 L458.00 298.60 Z" fill="#111" stroke="none"/>
<path d="M454.93 296.50 L458.00 295.50 L461.06 296.50 L458.00 297.50 Z" fill="#fff" stroke="none"/>
<text x="269.50" y="306.30">Test for heterogeneity between subgroups: <tspan font-style="italic">&#967;</tspan><tspan dy="-1.1" font-size="2.3">2</tspan><tspan dy="2.0" dx="-1.3" font-size="2.3">1</tspan><tspan dy="-0.9"> = 0·6; </tspan><tspan font-style="italic" dx="0.5" stroke-width="0.14">P</tspan> = ·4;<tspan dx="0.5"> NS</tspan></text>
<text x="269.50" y="315.55" font-weight="bold" fill="#111" stroke-width="0.16">ITD/NPM1 Status:</text>
<text x="269.50" y="320.80">ITD WT/NPM1 WT</text>
<text x="337.00" y="320.80" text-anchor="middle">147/268</text>
<text x="369.30" y="320.80" text-anchor="middle">150/296</text>
<text x="397.50" y="320.80" text-anchor="end">3·4</text>
<text x="420.50" y="320.80" text-anchor="end">74·1</text>
<text x="487.80" y="322.00" font-size="2.75" fill="#222" stroke-width="0.14">1·05 (0·83, 1·32)</text>
<line x1="453.80" y1="319.50" x2="472.00" y2="319.50" stroke="#1a1a1a" stroke-width="1"/>
<rect x="460.10" y="317.60" width="3.80" height="3.80" fill="#000" stroke="none"/>
<text x="269.50" y="326.70">ITD WT/NPM1 mutant</text>
<text x="337.00" y="326.70" text-anchor="middle">32/90</text>
<text x="369.30" y="326.70" text-anchor="middle">36/90</text>
<text x="397.50" y="326.70" text-anchor="end">−0·1</text>
<text x="420.50" y="326.70" text-anchor="end">16·8</text>
<text x="487.80" y="327.90" font-size="2.75" fill="#222" stroke-width="0.14">0·99 (0·61, 1·61)</text>
<line x1="445.50" y1="325.50" x2="482.00" y2="325.50" stroke="#1a1a1a" stroke-width="1"/>
<rect x="458.45" y="324.45" width="2.10" height="2.10" fill="#000" stroke="none"/>
<text x="269.50" y="331.80">ITD mutant/NPM1 WT</text>
<text x="337.00" y="331.80" text-anchor="middle">15/29</text>
<text x="369.30" y="331.80" text-anchor="middle">25/35</text>
<text x="397.50" y="331.80" text-anchor="end">−3·6</text>
<text x="420.50" y="331.80" text-anchor="end">9·8</text>
<text x="487.80" y="333.00" font-size="2.75" fill="#222" stroke-width="0.14">0·69 (0·37, 1·27)</text>
<line x1="436.30" y1="330.50" x2="470.50" y2="330.50" stroke="#1a1a1a" stroke-width="1"/>
<rect x="447.10" y="329.60" width="1.80" height="1.80" fill="#000" stroke="none"/>
<text x="269.50" y="337.05">ITD mutant/NPM1 mutant</text>
<text x="337.00" y="337.05" text-anchor="middle">28/59</text>
<text x="369.30" y="337.05" text-anchor="middle">32/48</text>
<text x="397.50" y="337.05" text-anchor="end">−7·4</text>
<text x="420.50" y="337.05" text-anchor="end">14·4</text>
<text x="487.80" y="338.25" font-size="2.75" fill="#222" stroke-width="0.14">0·60 (0·36, 1·00)</text>
<line x1="436.30" y1="335.50" x2="459.50" y2="335.50" stroke="#1a1a1a" stroke-width="1"/>
<rect x="443.95" y="334.45" width="2.10" height="2.10" fill="#000" stroke="none"/>
<rect x="276.10" y="342.15" width="4.70" height="4.70" fill="#000" stroke="none"/>
<text x="287.50" y="345.80" font-weight="bold" stroke-width="0.16">Subtotal:</text>
<text x="337.00" y="345.80" text-anchor="middle" font-weight="bold" stroke-width="0.16">222/446</text>
<text x="369.30" y="345.80" text-anchor="middle" font-weight="bold" stroke-width="0.16">243/469</text>
<text x="397.50" y="345.80" text-anchor="end" font-weight="bold" stroke-width="0.16">−7·8</text>
<text x="420.50" y="345.80" text-anchor="end" font-weight="bold" stroke-width="0.16">115·0</text>
<text x="484.60" y="345.60" font-weight="bold" font-size="3.55" stroke-width="0.16">0·93 (0·78, 1·12)</text>
<text x="487.40" y="349.60" font-weight="bold" font-size="3.55" stroke-width="0.16">2<tspan font-style="italic">P</tspan> = ·5; NS</text>
<path d="M450.93 344.50 L457.62 342.40 L464.31 344.50 L457.62 346.60 Z" fill="#111" stroke="none"/>
<path d="M454.55 344.50 L457.62 343.50 L460.69 344.50 L457.62 345.50 Z" fill="#fff" stroke="none"/>
<text x="269.50" y="355.05">Test for heterogeneity between subgroups: <tspan font-style="italic">&#967;</tspan><tspan dy="-1.1" font-size="2.3">2</tspan><tspan dy="2.0" dx="-1.3" font-size="2.3">3</tspan><tspan dy="-0.9"> = 4·9; </tspan><tspan font-style="italic" dx="0.5" stroke-width="0.14">P</tspan> = ·2;<tspan dx="0.5"> NS</tspan></text>
</g>
<rect x="0" y="0" width="520" height="0.9" fill="#4d4d4d"/>
<rect x="0" y="387" width="520" height="1" fill="#4d4d4d"/>
<rect x="0" y="0" width="1.0" height="388" fill="#4d4d4d"/>
<rect x="518.75" y="0" width="1.25" height="388" fill="#4d4d4d"/>
</svg></body></html>
